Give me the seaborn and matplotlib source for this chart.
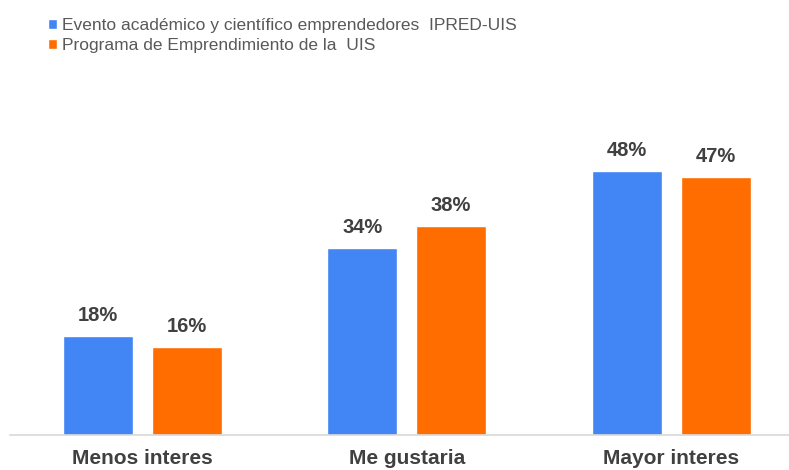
import pandas as pd
import matplotlib
matplotlib.use("Agg")
import matplotlib.pyplot as plt
import seaborn as sns

categorias = ["Menos interes", "Me gustaria", "Mayor interes"]
series = ["Evento académico y científico emprendedores  IPRED-UIS",
          "Programa de Emprendimiento de la  UIS"]
evento = [18, 34, 48]
programa = [16, 38, 47]
colores = ["#4285F4", "#FF6D01"]

df = pd.DataFrame({
    "categoria": categorias * 2,
    "serie": [series[0]] * 3 + [series[1]] * 3,
    "valor": evento + programa,
})

sns.set_theme(style="white")
plt.rcParams["font.family"] = ["Liberation Sans Narrow", "Liberation Sans", "DejaVu Sans"]

fig = plt.figure(figsize=(7.89, 4.70), dpi=100)
ax = fig.add_axes([10 / 789, 35 / 470, 779 / 789, 302 / 470])

sns.barplot(data=df, x="categoria", y="valor", hue="serie", palette=colores,
            width=0.67, gap=0.21, ax=ax, legend=True, saturation=1)

for cont in ax.containers:
    ax.bar_label(cont, labels=[f"{v:.0f}%" for v in cont.datavalues],
                 padding=8, fontsize=14.5, fontweight="bold", color="#404040")

ax.set_xlim(-0.5, -0.5 + 779 / 264.5)
ax.set_ylim(0, 55)
ax.set_xlabel("")
ax.set_ylabel("")
ax.set_yticks([])
ax.tick_params(axis="x", length=0, pad=10, labelsize=15, colors="#404040")
for lbl in ax.get_xticklabels():
    lbl.set_fontweight("bold")
for side in ["left", "right", "top"]:
    ax.spines[side].set_visible(False)
ax.spines["bottom"].set_color("#d9d9d9")
ax.spines["bottom"].set_linewidth(1.2)

handles, labels = ax.get_legend_handles_labels()
ax.legend(handles, labels, loc="upper left", bbox_to_anchor=(41 / 789, 1 - 11 / 470),
          bbox_transform=fig.transFigure, frameon=False, fontsize=12.5,
          labelcolor="#595959", handlelength=0.5, handleheight=0.5,
          handletextpad=0.3, labelspacing=0.3, borderaxespad=0)

plt.savefig("out.png", dpi=100)
